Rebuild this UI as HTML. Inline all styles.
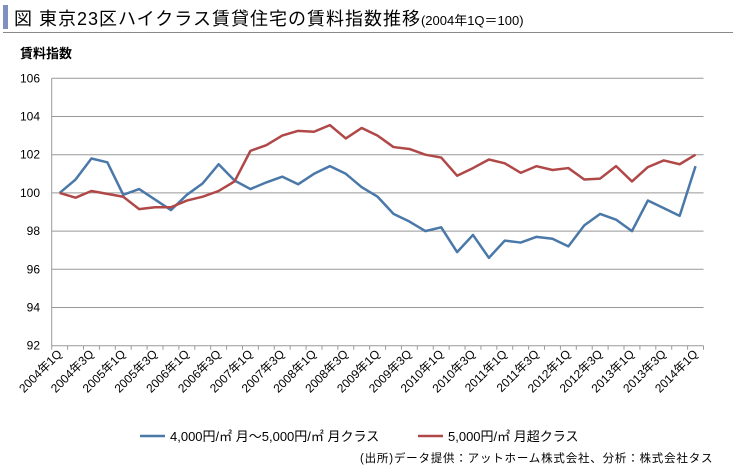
<!DOCTYPE html>
<html><head><meta charset="utf-8"><style>
body{margin:0;background:#fff;font-family:"Liberation Sans","Noto Sans CJK JP",sans-serif;}
#wrap{position:relative;width:737px;height:467px;overflow:hidden;}
</style></head><body>
<div id="wrap">
<div style="position:absolute;left:3px;top:5px;width:5px;height:24px;background:#7f8fc0"></div>
<div style="position:absolute;left:14px;top:5px;font-size:18px;letter-spacing:1px;color:#000;white-space:nowrap">図 東京23区ハイクラス賃貸住宅の賃料指数推移<span style="font-size:13px;letter-spacing:0">(2004年1Q＝100)</span></div>
<div style="position:absolute;left:3px;top:32px;width:730px;height:1px;background:#888"></div>
<div style="position:absolute;left:20px;top:43px;font-size:13px;font-weight:bold">賃料指数</div>
<svg id="chart" width="737" height="467" style="position:absolute;left:0;top:0"></svg>
<div style="position:absolute;left:360px;top:450px;font-size:11.5px;letter-spacing:0.8px;white-space:nowrap">(出所)データ提供：アットホーム株式会社、分析：株式会社タス</div>
</div>
<script>
const categories=[];for(let y=2004;y<=2014;y++)for(let q=1;q<=4;q++){if(y===2014&&q>1)break;categories.push(y+"年"+q+"Q");}
const blueValues=[100,100.7,101.8,101.6,99.9,100.2,99.65,99.1,99.9,100.5,101.5,100.65,100.2,100.55,100.85,100.45,101.0,101.4,101.0,100.3,99.8,98.9,98.5,98.0,98.2,96.9,97.8,96.6,97.5,97.4,97.7,97.6,97.2,98.3,98.9,98.6,98.0,99.6,99.2,98.8,101.4];
const redValues=[100,99.75,100.1,99.95,99.8,99.15,99.25,99.25,99.6,99.8,100.1,100.6,102.2,102.5,103.0,103.25,103.2,103.55,102.85,103.4,103.0,102.4,102.3,102.0,101.85,100.9,101.3,101.75,101.55,101.05,101.4,101.2,101.3,100.7,100.75,101.4,100.6,101.35,101.7,101.5,102.0];
const yTicks=[92,94,96,98,100,102,104,106];
const seriesNames=["4,000円/㎡ 月～5,000円/㎡ 月クラス","5,000円/㎡ 月超クラス"];
const svg=document.getElementById('chart');const NS="http://www.w3.org/2000/svg";
const L=51.7,R=703.5,T=78.3,B=345.7;
const step=(R-L)/categories.length;
const xs=i=>L+step*(i+0.5);
const ys=v=>B-(v-92)/(106-92)*(B-T);
function mk(t,a){const e=document.createElementNS(NS,t);for(const k in a)e.setAttribute(k,a[k]);svg.appendChild(e);return e;}
yTicks.forEach(v=>{
 const g=mk('line',{x1:L,x2:R,y1:ys(v),y2:ys(v),stroke:'#999','stroke-width':1});
 
 
 const t=mk('text',{x:40,y:ys(v)+4,'text-anchor':'end','font-size':12,fill:'#000'});t.textContent=v;
 
 
});
const ax=mk('line',{x1:L,x2:L,y1:T,y2:B,stroke:'#999'});


for(let i=0;i<=categories.length;i++){const tk=mk('line',{x1:L+step*i,x2:L+step*i,y1:B,y2:B+4,stroke:'#999'});
 
 }
categories.forEach((c,i)=>{if(i%2)return;const x=xs(i)+3,y=B+9;
 const t=mk('text',{x:x,y:y,'text-anchor':'end','font-size':12,transform:`rotate(-45 ${x} ${y})`});t.textContent=c;
 
 });
function line(vals,color,name){const p=mk('polyline',{points:vals.map((v,i)=>xs(i)+','+ys(v)).join(' '),fill:'none',stroke:color,'stroke-width':2.5,'stroke-linejoin':'round'});
 
 }
line(blueValues,'#4a78a8','series-4000-5000');
line(redValues,'#b04848','series-over-5000');
[[140,'#4a78a8',0],[418,'#b04848',1]].forEach(([x,c,k])=>{
 const l=mk('line',{x1:x,x2:x+25,y1:436,y2:436,stroke:c,'stroke-width':2.5});
 
 
 const t=mk('text',{x:x+30,y:441,'font-size':13});t.textContent=seriesNames[k];
 
 
});
</script>
</body></html>
